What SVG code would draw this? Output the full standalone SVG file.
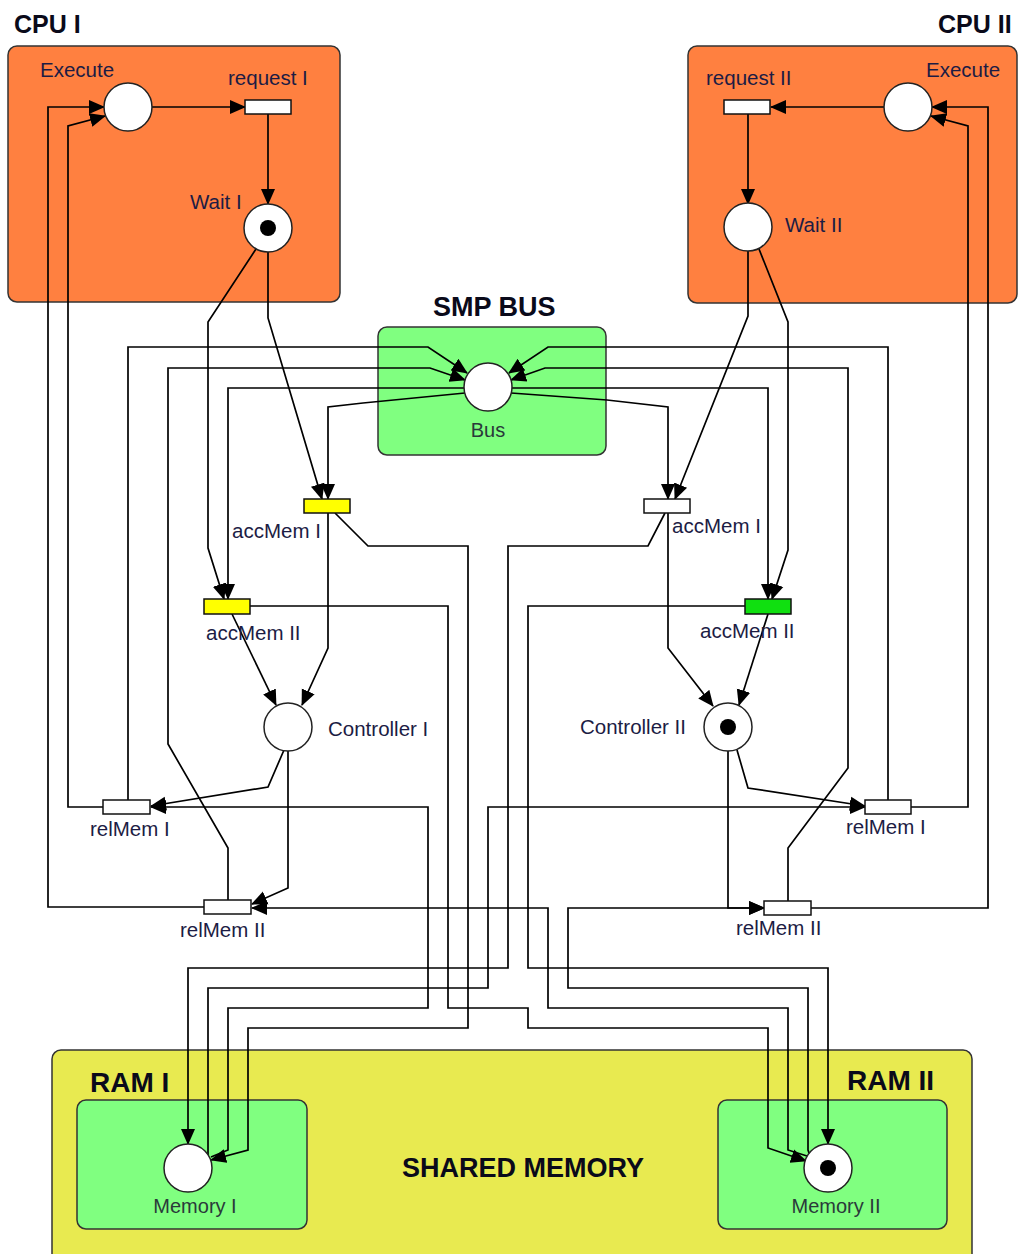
<svg xmlns="http://www.w3.org/2000/svg" width="1019" height="1254" viewBox="0 0 1019 1254">
<defs>
<marker id="arr" markerUnits="userSpaceOnUse" markerWidth="17" markerHeight="16" refX="15" refY="8" orient="auto"><path d="M0,1 L16,8 L0,15 z" fill="#000"/></marker>
</defs>
<style>
.box{stroke:#333;stroke-width:1.5}
.cpu{fill:#FF8040}
.green{fill:#80FF80}
.shared{fill:#E8EA50}
.place{fill:#fff;stroke:#222;stroke-width:1.5}
.tok{fill:#000}
.tr{stroke:#111;stroke-width:1.5}
.lbl{font-family:"Liberation Sans",Arial,sans-serif;font-size:20.5px;fill:#1c1c44}
.lbl2{font-family:"Liberation Sans",Arial,sans-serif;font-size:20px;fill:#2a3a3a}
.ttl{font-family:"Liberation Sans",Arial,sans-serif;font-weight:bold;fill:#0a0a1a}
.c{fill:none;stroke:#000;stroke-width:1.7}
.a{marker-end:url(#arr)}
</style>
<rect x="0" y="0" width="1019" height="1254" fill="#fff"/>

<g id="containers">
<g id="cpu1-box"><rect class="box cpu" x="8" y="46" width="332" height="256" rx="9"/><text class="ttl" x="14" y="33" font-size="25">CPU I</text></g>
<g id="cpu2-box"><rect class="box cpu" x="688" y="46" width="329" height="257" rx="9"/><text class="ttl" x="938" y="33" font-size="25">CPU II</text></g>
<g id="smpbus-box"><rect class="box green" x="378" y="327" width="228" height="128" rx="9"/><text class="ttl" x="433" y="316" font-size="27">SMP BUS</text></g>
<g id="shared-box"><rect class="box shared" x="52" y="1050" width="920" height="215" rx="9"/><text class="ttl" x="402" y="1177" font-size="27">SHARED MEMORY</text></g>
<g id="ram1-box"><rect class="box green" x="77" y="1100" width="230" height="129" rx="9"/><text class="ttl" x="90" y="1092" font-size="28">RAM I</text></g>
<g id="ram2-box"><rect class="box green" x="718" y="1100" width="229" height="129" rx="9"/><text class="ttl" x="847" y="1090" font-size="28">RAM II</text></g>
</g>

<g id="connectors">
<path class="c a" d="M152,107 L245,107"/>
<path class="c a" d="M268,113 L268,204"/>
<path class="c a" d="M268,252 L268,318 L322,499"/>
<path class="c a" d="M256,249 L208,322 L208,548 L224,599"/>
<path class="c a" d="M465,393 L363,403 L328,407 L328,499"/>
<path class="c a" d="M464,388 L228,388 L228,599"/>
<path class="c a" d="M328,513 L328,648 L302,705"/>
<path class="c a" d="M232,614 L276,705"/>
<path class="c a" d="M284,750 L268,787 L151,806"/>
<path class="c a" d="M288,751 L288,888 L252,904"/>
<path class="c a" d="M103,807 L68,807 L68,126 L105,116"/>
<path class="c a" d="M204,907 L48,907 L48,107 L104,107"/>
<path class="c a" d="M128,800 L128,347 L428,347 L467,373"/>
<path class="c a" d="M228,900 L228,848 L168,744 L168,368 L430,368 L465,380"/>
<path class="c a" d="M335,513 L368,546 L468,546 L468,1028 L248,1028 L248,1150 L211,1160"/>
<path class="c a" d="M250,606 L448,606 L448,1008 L528,1008 L528,1028 L768,1028 L768,1148 L806,1161"/>
<path class="c a" d="M211,1157 L228,1150 L228,1008 L428,1008 L428,807 L151,807"/>
<path class="c a" d="M208,1155 L208,988 L488,988 L488,807 L865,807"/>
<path class="c a" d="M665,513 L648,546 L508,546 L508,968 L188,968 L188,1144"/>
<path class="c a" d="M807,1156 L788,1150 L788,1008 L548,1008 L548,908 L252,908"/>
<path class="c a" d="M809,1153 L808,1150 L808,988 L568,988 L568,908 L764,908"/>
<path class="c a" d="M745,606 L528,606 L528,968 L828,968 L828,1144"/>
<path class="c a" d="M884,107 L771,107"/>
<path class="c a" d="M748,113 L748,204"/>
<path class="c a" d="M748,251 L748,316 L675,499"/>
<path class="c a" d="M759,249 L788,322 L788,550 L772,599"/>
<path class="c a" d="M511,393 L607,400 L668,407 L668,499"/>
<path class="c a" d="M512,388 L768,388 L768,599"/>
<path class="c a" d="M668,513 L668,648 L713,706"/>
<path class="c a" d="M768,614 L739,705"/>
<path class="c a" d="M737,750 L748,788 L865,806"/>
<path class="c a" d="M728,751 L728,908 L764,908"/>
<path class="c a" d="M911,807 L968,807 L968,126 L931,116"/>
<path class="c a" d="M811,908 L988,908 L988,107 L932,107"/>
<path class="c a" d="M888,800 L888,347 L548,347 L509,373"/>
<path class="c a" d="M788,901 L788,848 L848,768 L848,368 L545,368 L511,380"/>
</g>

<g id="execute1"><circle class="place" cx="128" cy="107" r="24"/><text class="lbl" x="40" y="77">Execute</text></g>
<g id="request1"><rect class="tr" x="245" y="100" width="46" height="14" fill="#fff"/><text class="lbl" x="228" y="85">request I</text></g>
<g id="wait1"><circle class="place" cx="268" cy="228" r="24"/><circle class="tok" cx="268" cy="228" r="8"/><text class="lbl" x="190" y="209">Wait I</text></g>
<g id="execute2"><circle class="place" cx="908" cy="107" r="24"/><text class="lbl" x="926" y="77">Execute</text></g>
<g id="request2"><rect class="tr" x="724" y="100" width="46" height="14" fill="#fff"/><text class="lbl" x="706" y="85">request II</text></g>
<g id="wait2"><circle class="place" cx="748" cy="227" r="24"/><text class="lbl" x="785" y="232">Wait II</text></g>
<g id="bus"><circle class="place" cx="488" cy="387" r="24"/><text class="lbl2" x="488" y="437" text-anchor="middle">Bus</text></g>
<g id="accmem1-cpu1"><rect class="tr" x="304" y="499" width="46" height="14" fill="#FFFF00"/><text class="lbl" x="232" y="538">accMem I</text></g>
<g id="accmem2-cpu1"><rect class="tr" x="204" y="599" width="46" height="15" fill="#FFFF00"/><text class="lbl" x="206" y="640">accMem II</text></g>
<g id="accmem1-cpu2"><rect class="tr" x="644" y="499" width="46" height="14" fill="#fff"/><text class="lbl" x="672" y="533">accMem I</text></g>
<g id="accmem2-cpu2"><rect class="tr" x="745" y="599" width="46" height="15" fill="#10E010"/><text class="lbl" x="700" y="638">accMem II</text></g>
<g id="controller1"><circle class="place" cx="288" cy="727" r="24"/><text class="lbl" x="328" y="736">Controller I</text></g>
<g id="controller2"><circle class="place" cx="728" cy="727" r="24"/><circle class="tok" cx="728" cy="727" r="8"/><text class="lbl" x="580" y="734">Controller II</text></g>
<g id="relmem1-cpu1"><rect class="tr" x="103" y="800" width="47" height="14" fill="#fff"/><text class="lbl" x="90" y="836">relMem I</text></g>
<g id="relmem2-cpu1"><rect class="tr" x="204" y="900" width="47" height="14" fill="#fff"/><text class="lbl" x="180" y="937">relMem II</text></g>
<g id="relmem1-cpu2"><rect class="tr" x="865" y="800" width="46" height="14" fill="#fff"/><text class="lbl" x="846" y="834">relMem I</text></g>
<g id="relmem2-cpu2"><rect class="tr" x="764" y="901" width="47" height="14" fill="#fff"/><text class="lbl" x="736" y="935">relMem II</text></g>
<g id="memory1"><circle class="place" cx="188" cy="1168" r="24"/><text class="lbl2" x="195" y="1213" text-anchor="middle">Memory I</text></g>
<g id="memory2"><circle class="place" cx="828" cy="1168" r="24"/><circle class="tok" cx="828" cy="1168" r="8"/><text class="lbl2" x="836" y="1213" text-anchor="middle">Memory II</text></g>
</svg>
